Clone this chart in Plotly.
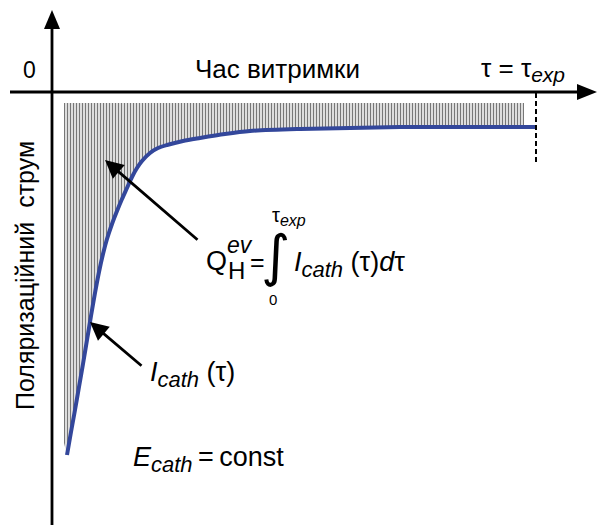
import numpy as np
import plotly.graph_objects as go

# ---- data (schematic units: tau = time, i_cath = polarisation current) ----
tau = [15, 19, 23, 27, 31, 35, 39, 43, 47, 51, 55, 60, 65, 70, 75, 80, 85,
       90, 98, 106, 115, 131, 148, 173, 198, 248, 298, 348, 398, 448, 484]
i_cath = [-363, -340, -318, -295, -272, -248, -224, -201, -180, -162, -147,
          -132, -119, -107, -96, -85, -76, -69, -61, -56, -53, -49, -46, -42,
          -39, -37, -36, -35, -35, -35, -35]
tau_exp = 484
hatch_top = -11
hatch_start, hatch_end = 12, 472
hatch_left_bottom = -351

W, H = 597, 525
X0, Y0 = 52, 92          # pixel position of the origin


def X(px):
    return px - X0


def Y(py):
    return Y0 - py


FONT = "Liberation Sans, Arial, sans-serif"
BLUE = "#33479b"

# hatched polygon (area between zero level and curve)
t_arr = np.array(tau, dtype=float)
i_arr = np.array(i_cath, dtype=float)
inner = t_arr[(t_arr > hatch_start) & (t_arr < hatch_end)]
hx = [hatch_start, hatch_end, hatch_end] + list(inner[::-1]) + [hatch_start, hatch_start]
hy = ([hatch_top, hatch_top, float(np.interp(hatch_end, t_arr, i_arr))]
      + list(np.interp(inner[::-1], t_arr, i_arr)) + [hatch_left_bottom, hatch_top])

fig = go.Figure()
fig.add_trace(go.Scatter(
    x=hx, y=hy, mode="lines", fill="toself", line=dict(width=0),
    fillcolor="rgba(0,0,0,0)",
    fillpattern=dict(shape="|", size=3, solidity=0.5, fgcolor="#777777",
                     bgcolor="white", fillmode="replace"),
    hoverinfo="skip", showlegend=False))
fig.add_trace(go.Scatter(
    x=tau, y=i_cath, mode="lines",
    line=dict(color=BLUE, width=4, shape="spline", smoothing=0.8),
    showlegend=False))

shapes = [
    # horizontal axis
    dict(type="line", x0=X(10), y0=Y(92), x1=X(582), y1=Y(92), line=dict(color="black", width=2.8)),
    dict(type="path", path=f"M {X(597)} {Y(92)} L {X(577)} {Y(84)} L {X(577)} {Y(100)} Z",
         fillcolor="black", line=dict(width=0)),
    # vertical axis
    dict(type="line", x0=X(52), y0=Y(25), x1=X(52), y1=Y(525), line=dict(color="black", width=2.8)),
    dict(type="path", path=f"M {X(52)} {Y(10)} L {X(44)} {Y(29)} L {X(60)} {Y(29)} Z",
         fillcolor="black", line=dict(width=0)),
    # tau_exp dashed marker
    dict(type="line", x0=tau_exp, y0=Y(93), x1=tau_exp, y1=Y(165),
         line=dict(color="black", width=2, dash="5px,3px")),
]

ann = []


def txt(px, py, text, size, xanchor="center", yanchor="middle", angle=0, family=FONT):
    ann.append(dict(x=X(px), y=Y(py), text=text, showarrow=False, xanchor=xanchor,
                    yanchor=yanchor, textangle=angle,
                    font=dict(family=family, size=size, color="black")))


def arrow(tip, tail):
    ann.append(dict(x=X(tip[0]), y=Y(tip[1]), ax=X(tail[0]), ay=Y(tail[1]),
                    axref="x", ayref="y", xref="x", yref="y", text="", showarrow=True,
                    arrowhead=2, arrowsize=1.3, arrowwidth=2.8, arrowcolor="black"))


def sub(s, px):
    return f"<sub><span style='font-size:{px}px'><i>{s}</i></span></sub>"


txt(29, 70, "0", 23)
txt(277, 69, "Час витримки", 26)
txt(479, 69, "τ = τ" + sub("exp", 21), 26, xanchor="left")
txt(25, 276, "Поляризаційний  струм", 25, angle=-90)

# integral formula
txt(216, 261, "Q", 27)
txt(240, 245, "<i>ev</i>", 23)
txt(236, 270, "H", 24)
txt(257, 262, "=", 25)
txt(275, 255, "∫", 56, family="DejaVu Sans")
txt(289, 216, "τ" + sub("exp", 16), 20)
txt(273, 299, "0", 15)
txt(292, 264, "<i>I</i>" + sub("cath", 22) + " (τ)<i>d</i>τ", 27, xanchor="left")

txt(148, 374, "<i>I</i>" + sub("cath", 22) + " (τ)", 27, xanchor="left")
txt(131, 459, "<i>E</i>" + sub("cath", 22) + "\u2009=\u2009const", 27, xanchor="left")

arrow((105, 160), (199, 241))
arrow((90, 322), (143, 367))

fig.update_layout(
    width=W, height=H, margin=dict(l=0, r=0, t=0, b=0),
    paper_bgcolor="white", plot_bgcolor="white",
    xaxis=dict(range=[X(0), X(W)], visible=False, fixedrange=True),
    yaxis=dict(range=[Y(H), Y(0)], visible=False, fixedrange=True),
    shapes=shapes, annotations=ann, showlegend=False,
)

fig.write_html("out.html")
